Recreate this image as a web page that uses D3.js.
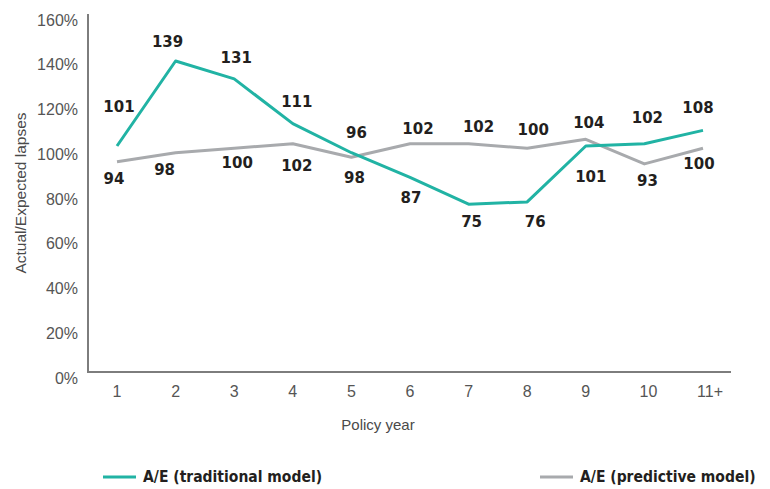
<!DOCTYPE html>
<html>
<head>
<meta charset="utf-8">
<script src="https://cdn.jsdelivr.net/npm/d3@7"></script>
<style>
  html, body { margin: 0; padding: 0; background: #fff; }
  svg { display: block; }
</style>
</head>
<body>
<svg id="chart" width="770" height="489"></svg>
<script>
// Policy years on the x axis
const policyYears = ["1", "2", "3", "4", "5", "6", "7", "8", "9", "10", "11+"];
// Actual / expected lapse ratios (%)
const traditional = [101, 139, 131, 111, 98, 87, 75, 76, 101, 102, 108];
const predictive  = [94, 98, 100, 102, 96, 102, 102, 100, 104, 93, 100];
// Y axis ticks (%)
const yTicks = [0, 20, 40, 60, 80, 100, 120, 140, 160];
const seriesNames = ["A/E (traditional model)", "A/E (predictive model)"];

// Where each value label sits relative to its point [dx, dy]
const tradLabelOffsets = [[2,-39],[-8,-19],[2,-21],[4,-22],[3,25],[1,20],[3,18],[8,20],[5,31],[3,-26],[-5,-23]];
const predLabelOffsets = [[-3,17],[-11,17],[3,14],[4,22],[5,-24],[8,-15],[10,-17],[6,-19],[3,-17],[3,17],[-4,15]];

const svg = d3.select("#chart");
const plotLeft = 88, plotRight = 731, plotTop = 14, plotBottom = 372;

const x = d3.scalePoint().domain(policyYears).range([117, 703]);
const y = d3.scaleLinear().domain([0, 160]).range([plotBottom, plotTop]);

const teal = "#21b3a4";
const grey = "#a8aaad";
const axisGrey = "#7d7d7d";
const textGrey = "#555555";
const labelDark = "#231f20";

// Axis lines
svg.append("line").attr("x1", plotLeft).attr("x2", plotLeft).attr("y1", plotTop).attr("y2", plotBottom)
  .attr("stroke", axisGrey).attr("stroke-width", 2);
svg.append("line").attr("x1", plotLeft - 1).attr("x2", plotRight).attr("y1", plotBottom).attr("y2", plotBottom)
  .attr("stroke", axisGrey).attr("stroke-width", 2);

// Y tick labels
svg.append("g").selectAll("text").data(yTicks).join("text")
  .attr("x", 78).attr("y", d => y(d) + 6).attr("dy", "0.35em")
  .attr("text-anchor", "end")
  .attr("font-family", "Liberation Sans, Arial, sans-serif").attr("font-size", 16)
  .attr("fill", textGrey)
  .text(d => d + "%");

// X tick labels
svg.append("g").selectAll("text").data(policyYears).join("text")
  .attr("x", d => x(d) + (d === "11+" ? 7 : d === "10" ? 4 : 0)).attr("y", 391).attr("dy", "0.35em")
  .attr("text-anchor", "middle")
  .attr("font-family", "Liberation Sans, Arial, sans-serif").attr("font-size", 16)
  .attr("fill", textGrey)
  .text(d => d);

// Axis titles
svg.append("text").attr("x", 378).attr("y", 425).attr("dy", "0.35em")
  .attr("text-anchor", "middle")
  .attr("font-family", "Liberation Sans, Arial, sans-serif").attr("font-size", 15)
  .attr("fill", "#4a4a4a").text("Policy year");
svg.append("text").attr("transform", "translate(21,193) rotate(-90)").attr("dy", "0.35em")
  .attr("text-anchor", "middle")
  .attr("font-family", "Liberation Sans, Arial, sans-serif").attr("font-size", 15.5)
  .attr("fill", "#4a4a4a").text("Actual/Expected lapses");

const line = d3.line().x((d, i) => x(policyYears[i])).y(d => y(d));

svg.append("path").datum(predictive).attr("d", line)
  .attr("fill", "none").attr("stroke", grey).attr("stroke-width", 3).attr("stroke-linejoin", "round");
svg.append("path").datum(traditional).attr("d", line)
  .attr("fill", "none").attr("stroke", teal).attr("stroke-width", 3).attr("stroke-linejoin", "round");

function drawLabels(values, offsets) {
  svg.append("g").selectAll("text").data(values).join("text")
    .attr("x", (d, i) => x(policyYears[i]) + offsets[i][0])
    .attr("y", (d, i) => y(d) + offsets[i][1])
    .attr("dy", "0.35em")
    .attr("text-anchor", "middle")
    .attr("font-family", "DejaVu Sans, sans-serif").attr("font-weight", "bold").attr("font-size", 15)
    .attr("fill", labelDark)
    .text(d => d);
}
drawLabels(traditional, tradLabelOffsets);
drawLabels(predictive, predLabelOffsets);

// Legend
const legend = [
  { name: seriesNames[0], color: teal, x0: 103 },
  { name: seriesNames[1], color: grey, x0: 540 }
];
const lg = svg.append("g").selectAll("g").data(legend).join("g");
lg.append("line").attr("x1", d => d.x0).attr("x2", d => d.x0 + 33)
  .attr("y1", 477).attr("y2", 477).attr("stroke", d => d.color).attr("stroke-width", 3);
lg.append("text").attr("x", d => d.x0 + 40).attr("y", 477).attr("dy", "0.35em")
  .attr("font-family", "DejaVu Sans Condensed, DejaVu Sans, sans-serif").attr("font-weight", "bold")
  .attr("font-size", 15.5).attr("fill", labelDark)
  .text(d => d.name);
</script>
</body>
</html>
